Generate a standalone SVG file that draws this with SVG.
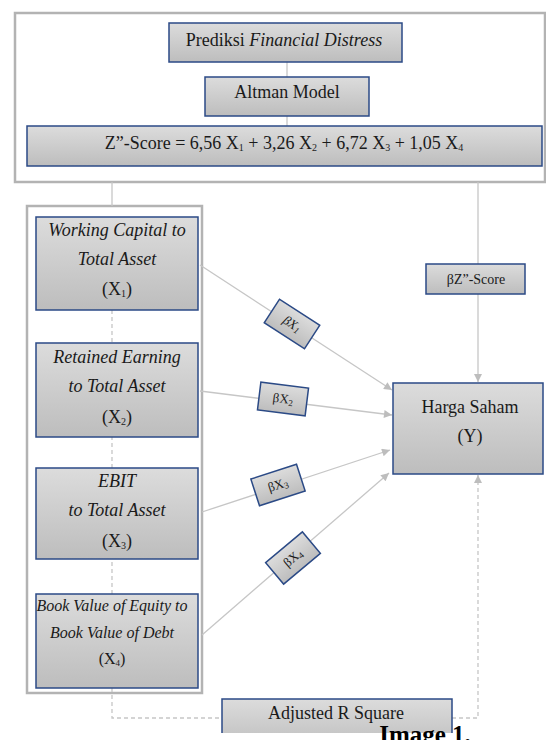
<svg xmlns="http://www.w3.org/2000/svg" width="546" height="740" viewBox="0 0 546 740" font-family="'Liberation Serif', 'Times New Roman', 'DejaVu Serif', serif">
<defs>
<linearGradient id="g" x1="0" y1="0" x2="0" y2="1">
<stop offset="0" stop-color="#dcdcdc"/>
<stop offset="1" stop-color="#bdbdbd"/>
</linearGradient>
<marker id="ah" viewBox="0 0 10 10" refX="10" refY="5" markerWidth="9" markerHeight="8" markerUnits="userSpaceOnUse" orient="auto">
<path d="M0,0 L10,5 L0,10 Z" fill="#bdbdbd"/>
</marker>
<style>
.box{fill:url(#g);stroke:#2b4a86;stroke-width:1.5}
.cont{fill:#ffffff;stroke:#b3b3b3;stroke-width:2.5}
.ln{fill:none;stroke:#c6c6c6;stroke-width:1.3}
.dl{fill:none;stroke:#c6c6c6;stroke-width:1.3;stroke-dasharray:4 3}
text{font-family:'Liberation Serif','Times New Roman','DejaVu Serif',serif;fill:#1a1a1a;text-anchor:middle}
.t{font-size:18px}
.t16{font-size:16px}
.it{font-style:italic}
.b{font-size:13px}
.bz{font-size:14px}
.sub{font-size:10px}
.sb{font-size:9px}
</style>
</defs>
<rect width="546" height="740" fill="#ffffff"/>
<g id="top-container">
<rect class="cont" x="15" y="13" width="530" height="169"/>
</g>
<g id="left-container">
<rect class="cont" x="27" y="206" width="175" height="487"/>
</g>
<g id="connectors">
<line class="ln" x1="287" y1="62" x2="287" y2="77"/>
<line class="ln" x1="287" y1="116" x2="287" y2="126"/>
<line class="ln" x1="112" y1="182" x2="112" y2="206"/>
<line class="ln" x1="478" y1="182" x2="478" y2="382" marker-end="url(#ah)"/>
<path class="dl" d="M112,310 V718 H222"/>
<path class="dl" d="M452,718 H478 V475" marker-end="url(#ah)"/>
<line class="ln" x1="200" y1="265" x2="392" y2="390" marker-end="url(#ah)"/>
<line class="ln" x1="200" y1="391" x2="392" y2="415" marker-end="url(#ah)"/>
<line class="ln" x1="202" y1="512" x2="390" y2="450" marker-end="url(#ah)"/>
<line class="ln" x1="202" y1="635" x2="389" y2="473" marker-end="url(#ah)"/>
</g>
<g id="prediksi">
<rect class="box" x="169" y="23" width="233" height="39"/>
<text class="t" x="284" y="46">Prediksi <tspan class="it">Financial Distress</tspan></text>
</g>
<g id="altman">
<rect class="box" x="205" y="77" width="164" height="39"/>
<text class="t" x="287" y="98">Altman Model</text>
</g>
<g id="zscore">
<rect class="box" x="27" y="126" width="515" height="40"/>
<text class="t" x="284" y="149">Z”-Score = 6,56 X<tspan class="sub" dy="2">1</tspan><tspan dy="-2"> + 3,26 X</tspan><tspan class="sub" dy="2">2</tspan><tspan dy="-2"> + 6,72 X</tspan><tspan class="sub" dy="2">3</tspan><tspan dy="-2"> + 1,05 X</tspan><tspan class="sub" dy="2">4</tspan></text>
</g>
<g id="x1">
<rect class="box" x="36" y="217" width="162" height="93"/>
<text class="t it" x="117" y="236">Working Capital to</text>
<text class="t it" x="117" y="265">Total Asset</text>
<text class="t" x="117" y="295">(X<tspan class="sub" dy="2">1</tspan><tspan dy="-2">)</tspan></text>
</g>
<g id="x2">
<rect class="box" x="36" y="343" width="162" height="94"/>
<text class="t it" x="117" y="363">Retained Earning</text>
<text class="t it" x="117" y="392">to Total Asset</text>
<text class="t" x="117" y="423">(X<tspan class="sub" dy="2">2</tspan><tspan dy="-2">)</tspan></text>
</g>
<g id="x3">
<rect class="box" x="36" y="468" width="162" height="91"/>
<text class="t it" x="117" y="487">EBIT</text>
<text class="t it" x="117" y="516">to Total Asset</text>
<text class="t" x="117" y="547">(X<tspan class="sub" dy="2">3</tspan><tspan dy="-2">)</tspan></text>
</g>
<g id="x4">
<rect class="box" x="36" y="594" width="162" height="94"/>
<text class="t16 it" x="112" y="611">Book Value of Equity to</text>
<text class="t16 it" x="112" y="638">Book Value of Debt</text>
<text class="t16" x="112" y="664">(X<tspan class="sb" dy="2">4</tspan><tspan dy="-2">)</tspan></text>
</g>
<g id="bx1" transform="translate(292,324) rotate(33)">
<rect class="box" x="-24" y="-14" width="48" height="28"/>
<text class="b it" x="0" y="4">βX<tspan class="sb" dy="2">1</tspan></text>
</g>
<g id="bx2" transform="translate(283,399) rotate(7)">
<rect class="box" x="-24" y="-14" width="48" height="28"/>
<text class="b" x="0" y="4">βX<tspan class="sb" dy="2">2</tspan></text>
</g>
<g id="bx3" transform="translate(278,485) rotate(-18)">
<rect class="box" x="-24" y="-14" width="48" height="28"/>
<text class="b" x="0" y="4">βX<tspan class="sb" dy="2">3</tspan></text>
</g>
<g id="bx4" transform="translate(293,558) rotate(-40)">
<rect class="box" x="-24" y="-14" width="48" height="28"/>
<text class="b" x="0" y="4">βX<tspan class="sb" dy="2">4</tspan></text>
</g>
<g id="bz">
<rect class="box" x="426" y="264" width="99" height="30"/>
<text class="bz" x="476" y="284">βZ”-Score</text>
</g>
<g id="harga">
<rect class="box" x="393" y="383" width="150" height="91"/>
<text class="t" x="470" y="413">Harga Saham</text>
<text class="t" x="470" y="442">(Y)</text>
</g>
<g id="adjusted">
<rect class="box" x="222" y="699" width="230" height="50"/>
<text class="t" x="336" y="719">Adjusted R Square</text>
</g>
<rect x="200" y="733" width="346" height="7" fill="#ffffff"/>
<text x="425" y="743" style="font-size:25px;font-weight:bold;fill:#000">Image 1.</text>
</svg>
